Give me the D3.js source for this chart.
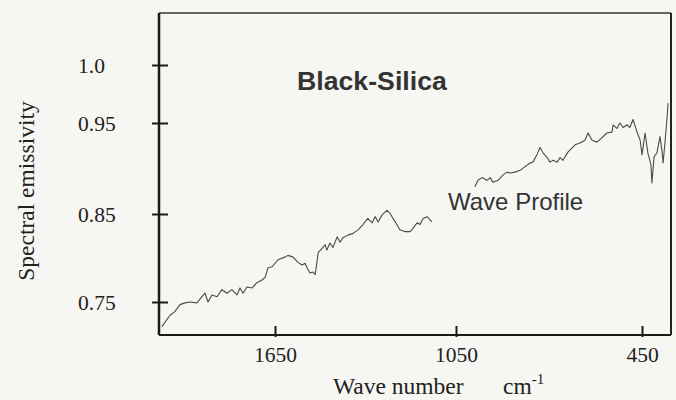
<!DOCTYPE html>
<html><head><meta charset="utf-8">
<script src="https://cdn.jsdelivr.net/npm/d3@7"></script>
<style>html,body{margin:0;padding:0;background:#f6f6f3;} svg{display:block}</style>
</head><body><svg id="c" width="676" height="400"></svg>
<script>
// ---- data ----
const yTickValues = [0.75, 0.85, 0.95, 1.0];
const yTickLabels = ["0.75", "0.85", "0.95", "1.0"];
const xTickValues = [1650, 1050, 450];
const xTickLabels = ["1650", "1050", "450"];
const titleText = "Black-Silica";
const seriesName = "Wave Profile";
// wave number (cm-1); null marks the gap in the recorded trace
const wavenumber = [2025,1998,1982,1965,1948,1932,1909,1892,1882,1872,1859,1842,1826,1809,1793,1776,1766,1756,1743,1726,1710,1693,1683,1673,1660,1640,1617,1607,1590,1574,1560,1550,1544,1534,1524,1517,1511,1507,1494,1484,1478,1468,1458,1444,1434,1425,1408,1391,1375,1358,1352,1342,1328,1318,1308,1295,1279,1269,1259,1246,1236,1219,1202,1192,1179,1169,1159,1146,1130,
  null,
  989,979,966,950,940,931,914,898,885,876,860,843,827,811,802,789,779,769,756,747,737,724,714,705,689,666,650,634,624,611,595,579,563,547,543,531,521,511,498,489,479,466,456,450,440,431,421,418,411,402,392,385,382,376,369,366];
const emissivity = [0.722,0.735,0.739,0.747,0.749,0.750,0.749,0.756,0.760,0.750,0.758,0.756,0.764,0.760,0.764,0.758,0.766,0.760,0.767,0.766,0.772,0.775,0.778,0.789,0.790,0.798,0.801,0.803,0.801,0.795,0.792,0.794,0.789,0.783,0.784,0.781,0.795,0.806,0.811,0.815,0.809,0.817,0.812,0.824,0.818,0.823,0.826,0.828,0.832,0.838,0.841,0.845,0.840,0.847,0.841,0.849,0.854,0.851,0.845,0.838,0.832,0.830,0.830,0.834,0.840,0.838,0.845,0.847,0.841,
  null,
  0.880,0.887,0.890,0.887,0.890,0.885,0.887,0.893,0.896,0.895,0.896,0.898,0.902,0.906,0.907,0.915,0.923,0.917,0.912,0.907,0.909,0.907,0.912,0.909,0.918,0.926,0.928,0.931,0.939,0.931,0.929,0.934,0.939,0.940,0.948,0.944,0.950,0.945,0.948,0.945,0.953,0.940,0.931,0.915,0.939,0.917,0.904,0.884,0.913,0.917,0.935,0.918,0.906,0.928,0.955,0.967];

// ---- layout ----
const L = 159, R = 671, T = 13, B = 335;
const serif = "'Liberation Serif', 'DejaVu Serif', serif";
const sans = "'Liberation Sans', Arial, sans-serif";
const svg = d3.select("#c");

const x = d3.scaleLinear().domain([1650, 1050, 450]).range([275, 456, 642]);
const y = d3.scaleLinear().domain([0.75, 0.85, 0.95, 1.0]).range([302, 214, 123, 65]);

const pts = wavenumber.map((w, i) => ({w, e: emissivity[i]}));
const line = d3.line()
  .defined(d => d.w != null && d.e != null)
  .x(d => x(d.w)).y(d => y(d.e));

svg.append("path").datum(pts)
  .attr("d", line)
  .attr("fill", "none")
  .attr("stroke", "#4a4a4a")
  .attr("stroke-width", 1.1)
  .attr("stroke-linejoin", "round");

// frame
svg.append("line").attr("x1", L).attr("x2", R).attr("y1", T).attr("y2", T)
  .attr("stroke", "#333").attr("stroke-width", 1.6);
svg.append("line").attr("x1", R).attr("x2", R).attr("y1", T).attr("y2", B)
  .attr("stroke", "#222").attr("stroke-width", 2);

// y axis
const yAxis = svg.append("g").attr("transform", `translate(${L},0)`)
  .call(d3.axisLeft(y).tickValues(yTickValues)
    .tickFormat((d, i) => yTickLabels[i]).tickSizeOuter(0));
yAxis.select(".domain").attr("d", `M0,${T}V${B}`).attr("stroke", "#1a1a1a").attr("stroke-width", 2.5);
yAxis.selectAll(".tick line").attr("x1", -7).attr("x2", 9).attr("stroke", "#1a1a1a").attr("stroke-width", 2);
yAxis.selectAll(".tick text")
  .attr("x", 78 - L).attr("dy", "0.35em").attr("text-anchor", "start")
  .attr("font-family", serif)
  .attr("font-size", 21.5).attr("fill", "#222");

// x axis
const xAxis = svg.append("g").attr("transform", `translate(0,${B})`)
  .call(d3.axisBottom(x).tickValues(xTickValues)
    .tickFormat((d, i) => xTickLabels[i]).tickSizeOuter(0));
xAxis.select(".domain").attr("d", `M${L},0H${R}`).attr("stroke", "#1a1a1a").attr("stroke-width", 2.2);
xAxis.selectAll(".tick line").attr("y1", -9).attr("y2", 2).attr("stroke", "#1a1a1a").attr("stroke-width", 2);
xAxis.selectAll(".tick text")
  .attr("y", 27).attr("dy", "0")
  .attr("font-family", serif)
  .attr("font-size", 21.5).attr("fill", "#222");

// axis titles
svg.append("text")
  .attr("transform", "translate(34,191) rotate(-90)")
  .attr("text-anchor", "middle")
  .attr("font-family", serif)
  .attr("font-size", 23.5).attr("fill", "#222")
  .text("Spectral emissivity");

const xt = svg.append("text")
  .attr("x", 333).attr("y", 394)
  .attr("font-family", serif)
  .attr("font-size", 23.5).attr("fill", "#222");
xt.append("tspan").text("Wave number");
xt.append("tspan").attr("x", 503).text("cm");
xt.append("tspan").attr("dy", -10).attr("font-size", 15).text("-1");

// annotations
svg.append("text").attr("x", 297).attr("y", 90)
  .attr("font-family", sans)
  .attr("font-weight", "bold").attr("font-size", 26.7).attr("fill", "#333")
  .text(titleText);
svg.append("text").attr("x", 448).attr("y", 210)
  .attr("font-family", sans)
  .attr("font-size", 24).attr("fill", "#333")
  .text(seriesName);
</script>
</body></html>
